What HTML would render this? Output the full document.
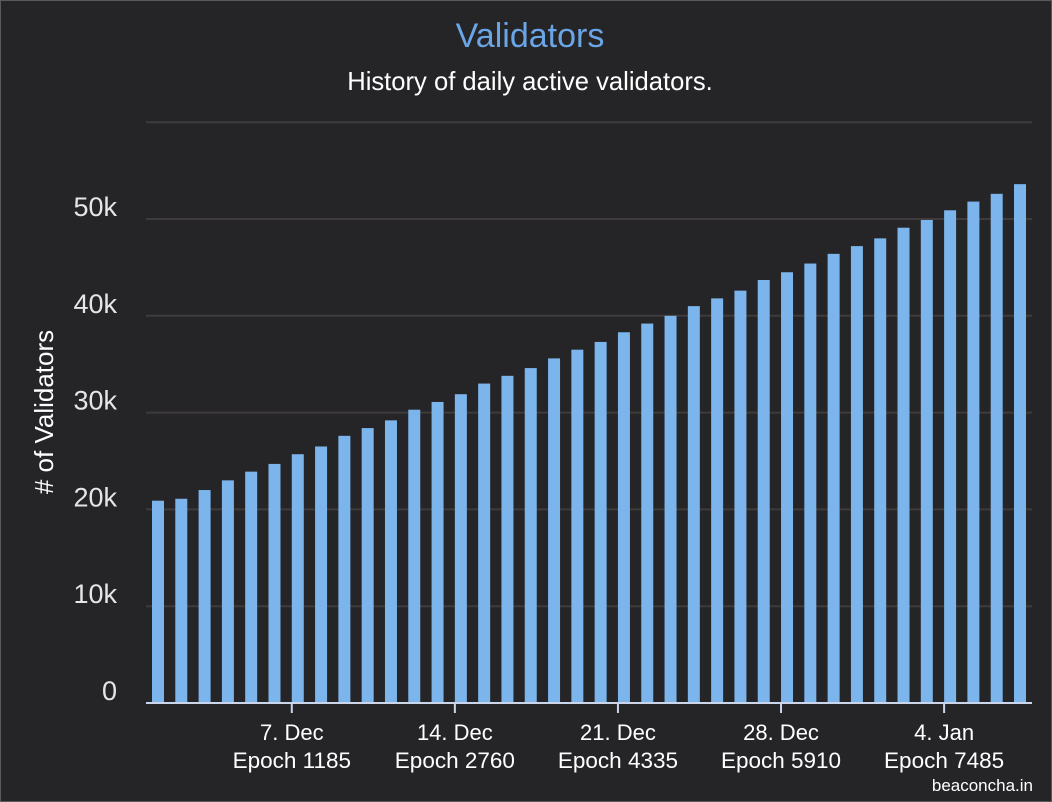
<!DOCTYPE html>
<html><head><meta charset="utf-8"><style>
body{margin:0;background:#252427;width:1052px;height:802px;overflow:hidden;font-family:"Liberation Sans",sans-serif}
#frame{position:absolute;left:0;top:0;width:1050px;height:800px;border:1px solid #5a5a5c}
</style></head><body>
<div id="frame"></div>
<svg id="chart" width="1052" height="802" style="position:absolute;left:0;top:0">
<text x="530" y="47" text-anchor="middle" font-size="34" fill="#6aa5e6">Validators</text>
<text x="530" y="90" text-anchor="middle" font-size="25.6" fill="#ffffff">History of daily active validators.</text>
<text transform="translate(53,412) rotate(-90)" text-anchor="middle" font-size="26" fill="#ffffff"># of Validators</text>
<text x="1033" y="791" text-anchor="end" font-size="17" fill="#ffffff">beaconcha.in</text>
<g id="grid"></g><g id="bars"></g><g id="xaxis"></g><g id="yaxis"></g>
</svg>
<script>
const values=[20.9,21.1,22.0,23.0,23.9,24.7,25.7,26.5,27.6,28.4,29.2,30.3,31.1,31.9,33.0,33.8,34.6,35.6,36.5,37.3,38.3,39.2,40.0,41.0,41.8,42.6,43.7,44.5,45.4,46.4,47.2,48.0,49.1,49.9,50.9,51.8,52.6,53.6];
const yTicks=[0,10,20,30,40,50,60];
const yTickLabels=["0","10k","20k","30k","40k","50k",""];
const xTickIndex=[6,13,20,27,34];
const xTickDates=["7. Dec","14. Dec","21. Dec","28. Dec","4. Jan"];
const xTickEpochs=["Epoch 1185","Epoch 2760","Epoch 4335","Epoch 5910","Epoch 7485"];

const NS="http://www.w3.org/2000/svg";
const plotL=146,plotR=1032,y0=703,pxPer10k=96.8;
const yScale=v=>y0-v*pxPer10k/10;
const firstC=158,step=(1020-158)/37;
const xScale=i=>firstC+i*step;
function mk(tag,attrs,parent){const e=document.createElementNS(NS,tag);for(const k in attrs)e.setAttribute(k,attrs[k]);parent.appendChild(e);return e;}
const grid=document.getElementById('grid'),bars=document.getElementById('bars'),xa=document.getElementById('xaxis'),ya=document.getElementById('yaxis');
yTicks.forEach((t,i)=>{
  if(t>0){const l=mk('line',{x1:plotL,x2:plotR,y1:yScale(t),y2:yScale(t),stroke:'#3f3b3b','stroke-width':2},grid);
  
  }
  if(yTickLabels[i]){const tx=mk('text',{x:117,y:yScale(t)-3,'text-anchor':'end','font-size':27,fill:'#e6e6e6'},ya);tx.textContent=yTickLabels[i];
  
  }
});
values.forEach((v,i)=>{
  const r=mk('rect',{x:xScale(i)-6,y:yScale(v),width:12,height:y0-yScale(v),fill:'#7cb5ec'},bars);
  
  
});
const ax=mk('line',{x1:plotL,x2:plotR,y1:y0,y2:y0,stroke:'#ccd6eb','stroke-width':2},xa);


xTickIndex.forEach((idx,i)=>{
  const x=xScale(idx)-6;
  const tk=mk('line',{x1:x,x2:x,y1:y0,y2:y0+10,stroke:'#ccd6eb','stroke-width':2},xa);
  
  
  const t1=mk('text',{x:x,y:740,'text-anchor':'middle','font-size':22,fill:'#ffffff'},xa);t1.textContent=xTickDates[i];
  
  
  const t2=mk('text',{x:x,y:768,'text-anchor':'middle','font-size':22.5,fill:'#ffffff'},xa);t2.textContent=xTickEpochs[i];
  
  
});
</script>
</body></html>
